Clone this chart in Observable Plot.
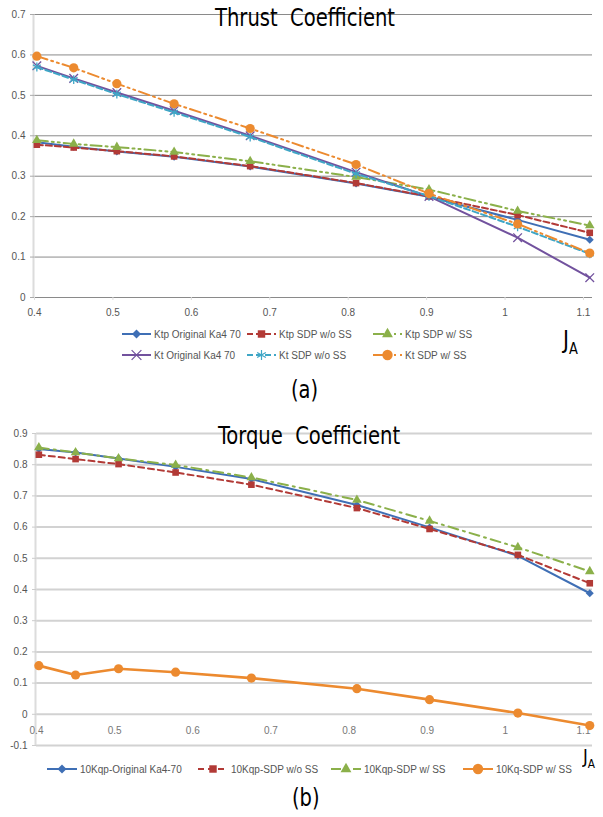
<!DOCTYPE html>
<html><head><meta charset="utf-8">
<script src="https://cdn.jsdelivr.net/npm/d3@7"></script>
<script src="https://cdn.jsdelivr.net/npm/@observablehq/plot@0.6"></script>
<style>
body{margin:0;background:#fff;}
#root{position:relative;width:603px;height:817px;overflow:hidden;font-family:"Liberation Sans",Arial,sans-serif;}
.abs{position:absolute;}
.cond{font-family:"DejaVu Sans Condensed","Liberation Sans Narrow","Liberation Sans",sans-serif;color:#000;white-space:pre;line-height:1;transform-origin:0 0;}
.leg{position:absolute;font-size:10px;color:#555;white-space:nowrap;display:flex;align-items:center;height:14px;}
.leg svg{margin-right:3px;}
</style></head>
<body><div id="root"></div>
<script>
// ---------- data ----------
const J = [0.403, 0.45, 0.505, 0.578, 0.675, 0.81, 0.903, 1.016, 1.108];

// (a) Thrust coefficient
const ktpOriginal = [0.384, 0.373, 0.361, 0.348, 0.324, 0.282, 0.249, 0.192, 0.143];
const ktpNoSS     = [0.378, 0.371, 0.362, 0.349, 0.325, 0.283, 0.250, 0.204, 0.160];
const ktpSS       = [0.389, 0.380, 0.372, 0.360, 0.337, 0.298, 0.267, 0.214, 0.178];
const ktOriginal  = [0.573, 0.542, 0.507, 0.462, 0.400, 0.310, 0.250, 0.148, 0.049];
const ktNoSS      = [0.570, 0.539, 0.503, 0.458, 0.397, 0.306, 0.251, 0.175, 0.108];
const ktSS        = [0.597, 0.568, 0.529, 0.479, 0.418, 0.329, 0.257, 0.182, 0.110];

// (b) Torque coefficient
const kqpOriginal = [0.850, 0.839, 0.820, 0.793, 0.754, 0.671, 0.599, 0.508, 0.388];
const kqpNoSS     = [0.832, 0.818, 0.802, 0.775, 0.736, 0.661, 0.594, 0.511, 0.420];
const kqpSS       = [0.855, 0.839, 0.820, 0.799, 0.759, 0.687, 0.620, 0.535, 0.458];
const kqSS        = [0.156, 0.126, 0.146, 0.135, 0.116, 0.082, 0.047, 0.004, -0.036];

const namesA = ["Ktp Original Ka4 70", "Ktp SDP w/o SS", "Ktp SDP w/ SS", "Kt Original Ka4 70", "Kt SDP w/o SS", "Kt SDP w/ SS"];
const namesB = ["10Kqp-Original Ka4-70", "10Kqp-SDP w/o SS", "10Kqp-SDP w/ SS", "10Kq-SDP w/ SS"];

const xTicks = [0.4, 0.5, 0.6, 0.7, 0.8, 0.9, 1, 1.1];
const xTickLabels = ["0.4", "0.5", "0.6", "0.7", "0.8", "0.9", "1", "1.1"];
const yTicksA = [0, 0.1, 0.2, 0.3, 0.4, 0.5, 0.6, 0.7];
const yTickLabelsA = ["0", "0.1", "0.2", "0.3", "0.4", "0.5", "0.6", "0.7"];
const yTicksB = [-0.1, 0, 0.1, 0.2, 0.3, 0.4, 0.5, 0.6, 0.7, 0.8, 0.9];
const yTickLabelsB = ["-0.1", "0", "0.1", "0.2", "0.3", "0.4", "0.5", "0.6", "0.7", "0.8", "0.9"];

// ---------- styles ----------
const stylesA = [
  {values: ktpOriginal, color: "#3f6fb5", dash: null, symbol: "diamond2", kind: "fill", r: 3.6, w: 2},
  {values: ktpNoSS, color: "#b23a36", dash: "6,3", symbol: "square2", kind: "fill", r: 4.2, w: 2},
  {values: ktpSS, color: "#8bb04a", dash: "11,4,2,4,2,4", symbol: "triangle2", kind: "fill", r: 4.6, w: 2},
  {values: ktOriginal, color: "#72529e", dash: null, symbol: "times", kind: "stroke", r: 4, w: 2},
  {values: ktNoSS, color: "#3fa6c6", dash: "6,3", symbol: "asterisk", kind: "stroke", r: 4.2, w: 2},
  {values: ktSS, color: "#ec8a2f", dash: "11,4,2,4,2,4", symbol: "circle", kind: "fill", r: 4.6, w: 2}
];
const stylesB = [
  {values: kqpOriginal, color: "#3f6fb5", dash: null, symbol: "diamond2", kind: "fill", r: 3.6, w: 2},
  {values: kqpNoSS, color: "#b23a36", dash: "6,4", symbol: "square2", kind: "fill", r: 4.2, w: 2},
  {values: kqpSS, color: "#8bb04a", dash: "10,5,2,5", symbol: "triangle2", kind: "fill", r: 4.6, w: 2},
  {values: kqSS, color: "#ec8a2f", dash: null, symbol: "circle", kind: "fill", r: 4.6, w: 2.6}
];

function seriesMarks(styles, names) {
  const marks = [];
  styles.forEach((s, k) => {
    const data = J.map((x, i) => ({x, y: s.values[i], name: names[k]}));
    marks.push(Plot.line(data, {x: "x", y: "y", stroke: s.color, strokeWidth: s.w, strokeDasharray: s.dash || undefined}));
    if (s.kind === "fill") {
      marks.push(Plot.dot(data, {x: "x", y: "y", symbol: s.symbol, r: s.r, fill: s.color, stroke: "none"}));
    } else {
      marks.push(Plot.dot(data, {x: "x", y: "y", symbol: s.symbol, r: s.r, fill: "none", stroke: s.color, strokeWidth: 1.3}));
    }
  });
  return marks;
}

const root = document.getElementById("root");
const fmt = (ticks, labels) => d => labels[ticks.indexOf(d)];

// ---------- chart (a) ----------
const chartA = Plot.plot({
  width: 603, height: 322,
  marginTop: 14, marginBottom: 25, marginLeft: 34, marginRight: 11,
  x: {domain: [0.4, 1.1115]},
  y: {domain: [0, 0.7]},
  style: {fontSize: "10px", fontFamily: "Liberation Sans, Arial, sans-serif", color: "#555", background: "transparent"},
  marks: [
    Plot.gridY(yTicksA, {stroke: "#8a8a8a", strokeOpacity: 1, strokeWidth: 1}),
    Plot.ruleX([0.4], {stroke: "#dcdcdc", strokeWidth: 2, dx: -1}),
    Plot.axisY(yTicksA, {tickFormat: fmt(yTicksA, yTickLabelsA), tickSize: 4, tickPadding: 5, stroke: "#aaa", label: null}),
    Plot.axisX(xTicks, {tickFormat: fmt(xTicks, xTickLabels), tickSize: 3, tickPadding: 8, stroke: "#ddd", label: null}),
    ...seriesMarks(stylesA, namesA)
  ]
});
chartA.style.position = "absolute";
chartA.style.left = "0px";
chartA.style.top = "0px";
root.appendChild(chartA);

// ---------- chart (b) ----------
const chartB = Plot.plot({
  width: 603, height: 350,
  marginTop: 23, marginBottom: 15, marginLeft: 36, marginRight: 11,
  x: {domain: [0.4, 1.1115], axis: null},
  y: {domain: [-0.1, 0.9]},
  style: {fontSize: "10px", fontFamily: "Liberation Sans, Arial, sans-serif", color: "#555", background: "transparent"},
  marks: [
    Plot.gridY(yTicksB, {stroke: "#d2d2d2", strokeOpacity: 1, strokeWidth: 2}),
    Plot.ruleX([0.4], {stroke: "#dcdcdc", strokeWidth: 2, dx: -1}),
    Plot.axisY(yTicksB, {tickFormat: fmt(yTicksB, yTickLabelsB), tickSize: 4, tickPadding: 5, stroke: "#ccc", label: null}),
    Plot.text(xTicks, {x: d => d, y: () => 0, dy: 16, text: fmt(xTicks, xTickLabels), fill: "#777"}),
    ...seriesMarks(stylesB, namesB)
  ]
});
chartB.style.position = "absolute";
chartB.style.left = "0px";
chartB.style.top = "410px";
root.appendChild(chartB);

// ---------- text ----------
function addText(html, left, top, size, extra) {
  const d = document.createElement("div");
  d.className = "abs cond";
  d.style.left = left + "px";
  d.style.top = top + "px";
  d.style.fontSize = size + "px";
  if (extra) Object.assign(d.style, extra);
  d.innerHTML = html;
  root.appendChild(d);
  return d;
}
addText("Thrust  Coefficient", 215, 5, 25, {transform: "scaleX(0.87)"});
addText("Torque  Coefficient", 218, 423, 25, {transform: "scaleX(0.87)"});
addText("J<span style='font-size:16px;position:relative;top:6px'>A</span>", 563, 327, 25, {transform: "scaleX(0.9)"});
addText("J<span style='font-size:13px;position:relative;top:5px'>A</span>", 583, 746, 20, {transform: "scaleX(0.9)"});
addText("(a)", 291, 378, 24, {transform: "scaleX(0.9)"});
addText("(b)", 292, 786, 24, {transform: "scaleX(0.9)"});

// ---------- legends ----------
function swatch(s, width) {
  const sym = d3.symbol(({diamond2: d3.symbolDiamond2, square2: d3.symbolSquare2, triangle2: d3.symbolTriangle2, times: d3.symbolTimes, asterisk: d3.symbolAsterisk, circle: d3.symbolCircle})[s.symbol], (s.r * s.r) * 4)();
  const mark = s.kind === "fill"
    ? `<path d="${sym}" transform="translate(${width / 2},7)" fill="${s.color}"/>`
    : `<path d="${sym}" transform="translate(${width / 2},7)" fill="none" stroke="${s.color}" stroke-width="1.2"/>`;
  return `<svg width="${width}" height="14"><line x1="0" x2="${width}" y1="7" y2="7" stroke="${s.color}" stroke-width="2" ${s.dash ? `stroke-dasharray="${s.dash}"` : ""}/>${mark}</svg>`;
}
function addLegend(s, name, left, top, width) {
  const d = document.createElement("div");
  d.className = "leg";
  d.style.left = left + "px";
  d.style.top = top + "px";
  d.innerHTML = swatch(s, width) + `<span>${name}</span>`;
  root.appendChild(d);
}
const colsA = [122, 247, 373];
stylesA.forEach((s, k) => addLegend(s, namesA[k], colsA[k % 3], k < 3 ? 327 : 348, 29));
const colsB = [47, 198, 331, 463];
stylesB.forEach((s, k) => addLegend(s, namesB[k], colsB[k], 762, 30));
</script>
</body></html>
